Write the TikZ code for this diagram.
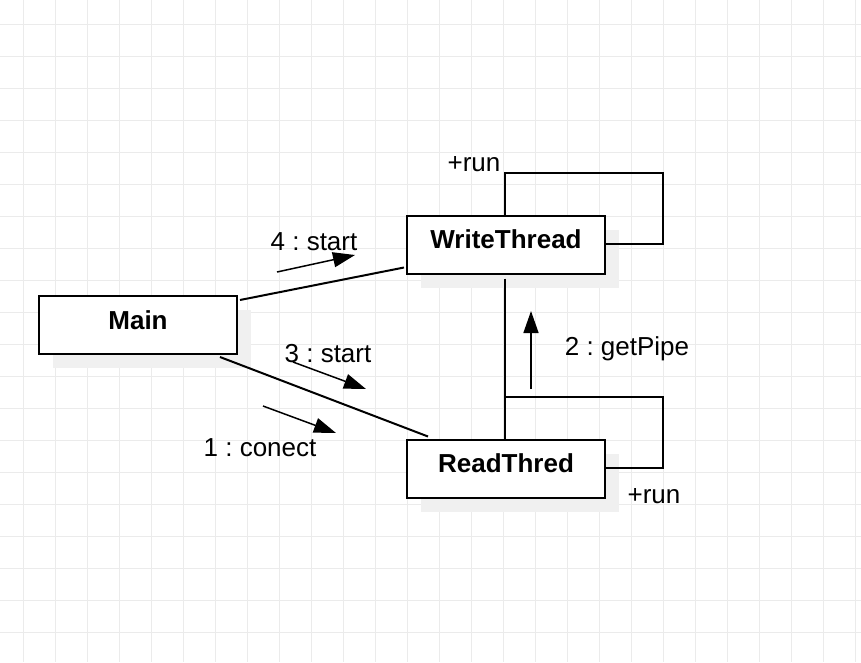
\documentclass[tikz,border=0pt]{standalone}
\usepackage{fontspec}
\setmainfont{Liberation Sans}
\usetikzlibrary{arrows.meta,calc,shadows}
\frenchspacing

\begin{document}
\begin{tikzpicture}[x=1pt,y=-1pt,
    every node/.style={font=\fontsize{26}{31}\selectfont},
    obj/.style={draw,line width=2pt,fill=white,minimum width=198pt,minimum height=58pt,
        text depth=10pt,font=\fontsize{26}{31}\selectfont\bfseries,
        drop shadow={shadow xshift=14pt,shadow yshift=-14pt,fill=black!6,opacity=1}},
    link/.style={line width=2pt},
    msg/.style={line width=1.5pt,-{Triangle[length=22pt,width=15pt]}}]
    \useasboundingbox (0,0) rectangle (861,662);
    \fill[white] (0,0) rectangle (861,662);
    \foreach \x in {23,55,...,861} \draw[black!8,line width=1pt] (\x,0) -- (\x,662);
    \foreach \y in {24,56,...,662} \draw[black!8,line width=1pt] (0,\y) -- (861,\y);

    \node[obj] (main) at (138,325) {Main};
    \node[obj] (wt) at (506,244.5) {WriteThread};
    \node[obj] (rt) at (506,468.5) {ReadThred};

    \draw[link] ($(main.north east)+(2,5)$) -- ($(wt.south west)+(-2,-7)$);
    \draw[link] ($(main.south east)+(-18,2)$) -- ($(rt.north west)+(22,-2)$);
    \draw[link] ($(wt.south)+(-1,4)$) -- ($(rt.north)+(-1,0)$);
    \draw[link] ($(wt.north)+(-1,0)$) |- ($(wt.north)+(157,-42)$) |- ($(wt.east)+(0,-1)$);
    \draw[link] ($(rt.north)+(-1,0)$) |- ($(rt.north)+(157,-42)$) |- ($(rt.east)+(0,-1)$);

    \node (l4) at (314,241.5) {4 : start};
    \node (l3) at (328,353.5) {3 : start};
    \node (l1) at (260,447.5) {1 : conect};
    \node (l2) at (627,348.5) {2 : getPipe};
    \node (r1) at (474,164) {+run};
    \node (r2) at (654,496) {+run};

    \coordinate (a4) at (277,272);
    \coordinate (b4) at (355,255);
    \coordinate (a3) at (293,362);
    \coordinate (b3) at (366,389);
    \coordinate (a1) at (263,406);
    \coordinate (b1) at (336,433);
    \coordinate (a2) at (531,389);
    \coordinate (b2) at (531,311);
    \draw[msg] (a4) -- (b4);
    \draw[msg] (a3) -- (b3);
    \draw[msg] (a1) -- (b1);
    \draw[msg] (a2) -- (b2);
\end{tikzpicture}
\end{document}
